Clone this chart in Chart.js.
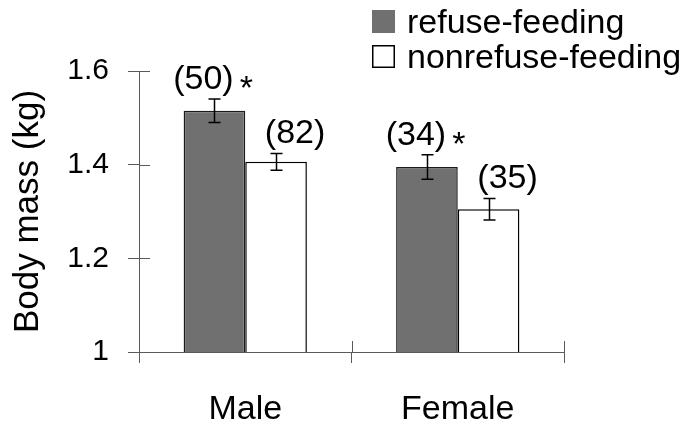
<!DOCTYPE html>
<html>
<head>
<meta charset="utf-8">
<script src="https://cdn.jsdelivr.net/npm/chart.js@4.4.1/dist/chart.umd.min.js"></script>
<style>
  html, body { margin: 0; padding: 0; background: #fff; }
  #wrap { width: 688px; height: 425px; position: relative; }
</style>
</head>
<body>
<div id="wrap"><canvas id="chart"></canvas></div>
<script>
// data
const categories = ['Male', 'Female']
const seriesNames = ['refuse-feeding', 'nonrefuse-feeding']
const refuseMeans = [1.515, 1.395]
const refuseErrors = [0.025, 0.026]
const refuseCounts = [50, 34]
const refuseStars = [true, true]
const nonrefuseMeans = [1.406, 1.305]
const nonrefuseErrors = [0.018, 0.023]
const nonrefuseCounts = [82, 35]
const nonrefuseStars = [false, false]
const yTicks = [1, 1.2, 1.4, 1.6]

const FONT = '"Liberation Sans", Arial, sans-serif'
const AXIS = '#5a5a5a'

// inner half of the tick marks (the axes have crossing ticks)
const crossTicks = {
  id: 'crossTicks',
  afterDraw(chart, args, opts) {
    const { ctx, chartArea, scales: { x, y } } = chart
    ctx.save()
    ctx.strokeStyle = opts.color
    ctx.lineWidth = 1
    ctx.beginPath()
    y.ticks.forEach((t, i) => {
      const py = Math.round(y.getPixelForTick(i)) + 0.5
      ctx.moveTo(chartArea.left, py)
      ctx.lineTo(chartArea.left + opts.length, py)
    })
    const step = x.getPixelForValue(1) - x.getPixelForValue(0)
    for (let i = 0; i <= categories.length; i++) {
      const px = Math.round(x.getPixelForValue(i) - step / 2) + 0.5
      ctx.moveTo(px, chartArea.bottom)
      ctx.lineTo(px, chartArea.bottom - opts.length)
    }
    ctx.stroke()
    ctx.restore()
  }
}

// error bars + sample size labels + significance stars
const barExtras = {
  id: 'barExtras',
  afterDatasetsDraw(chart, args, opts) {
    const { ctx, scales: { y } } = chart
    ctx.save()
    chart.data.datasets.forEach((ds, di) => {
      const meta = chart.getDatasetMeta(di)
      meta.data.forEach((bar, i) => {
        const v = ds.data[i], e = ds.errors[i]
        const yt = y.getPixelForValue(v + e)
        const yb = y.getPixelForValue(v - e)
        const cx = Math.round(bar.x) + 0.5
        ctx.strokeStyle = '#000'
        ctx.lineWidth = 1.5
        ctx.beginPath()
        ctx.moveTo(cx, yt); ctx.lineTo(cx, yb)
        ctx.moveTo(cx - opts.cap, yt); ctx.lineTo(cx + opts.cap, yt)
        ctx.moveTo(cx - opts.cap, yb); ctx.lineTo(cx + opts.cap, yb)
        ctx.stroke()

        ctx.fillStyle = '#000'
        ctx.font = opts.font
        ctx.textAlign = 'center'
        ctx.textBaseline = 'alphabetic'
        const text = '(' + ds.counts[i] + ')'
        const lx = bar.x + opts.shift[di]
        const base = yt - opts.gap - 7
        ctx.fillText(text, lx, base)
        if (ds.stars[i]) {
          const w = ctx.measureText(text).width
          ctx.textAlign = 'left'
          ctx.fillText('*', lx + w / 2 + 6, base + 10)
        }
      })
    })
    ctx.restore()
  }
}

// two-row legend in the upper right
const boxLegend = {
  id: 'boxLegend',
  afterDraw(chart, args, opts) {
    const { ctx } = chart
    ctx.save()
    ctx.font = opts.font
    ctx.textBaseline = 'alphabetic'
    ctx.textAlign = 'left'
    chart.data.datasets.forEach((ds, i) => {
      const base = opts.y + i * opts.row
      const bx = opts.x, by = base - opts.box
      ctx.fillStyle = ds.backgroundColor
      ctx.fillRect(bx, by, opts.box, opts.box)
      if (ds.legendBorder) {
        ctx.strokeStyle = '#000'
        ctx.lineWidth = 1.5
        ctx.strokeRect(bx + 0.75, by + 0.75, opts.box - 1.5, opts.box - 1.5)
      }
      ctx.fillStyle = '#000'
      ctx.fillText(ds.label, bx + opts.box + opts.gap, base)
    })
    ctx.restore()
  }
}

new Chart(document.getElementById('chart'), {
  type: 'bar',
  data: {
    labels: categories,
    datasets: [
      {
        label: seriesNames[0],
        data: refuseMeans,
        errors: refuseErrors,
        counts: refuseCounts,
        stars: refuseStars,
        backgroundColor: '#707070',
        borderColor: '#1a1a1a',
        borderWidth: 1.5,
        borderSkipped: false,
        legendBorder: false
      },
      {
        label: seriesNames[1],
        data: nonrefuseMeans,
        errors: nonrefuseErrors,
        counts: nonrefuseCounts,
        stars: nonrefuseStars,
        backgroundColor: '#ffffff',
        borderColor: '#000000',
        borderWidth: 1.5,
        borderSkipped: false,
        legendBorder: true
      }
    ]
  },
  options: {
    responsive: true,
    maintainAspectRatio: false,
    animation: false,
    devicePixelRatio: 1,
    layout: { padding: { top: 71, right: 124, bottom: 0, left: 0 } },
    datasets: {
      bar: { categoryPercentage: 0.58, barPercentage: 1 }
    },
    scales: {
      x: {
        afterFit: s => { s.height = 73 },
        grid: { offset: true, drawOnChartArea: false, tickLength: 11, color: AXIS, lineWidth: 1 },
        border: { display: true, color: AXIS, width: 1 },
        ticks: { color: '#000', padding: 26, font: { family: FONT, size: 34 } }
      },
      y: {
        min: 1,
        max: 1.6,
        afterBuildTicks: s => { s.ticks = yTicks.map(v => ({ value: v })) },
        afterFit: s => { s.width = 139 },
        grid: { drawOnChartArea: false, tickLength: 11, color: AXIS, lineWidth: 1 },
        border: { display: true, color: AXIS, width: 1 },
        ticks: {
          color: '#000',
          padding: 19,
          font: { family: FONT, size: 30 },
          callback: v => String(v)
        },
        title: {
          display: true,
          text: 'Body mass (kg)',
          color: '#000',
          font: { family: FONT, size: 35 },
          padding: { top: 7, bottom: 0 }
        }
      }
    },
    plugins: {
      legend: { display: false },
      tooltip: { enabled: false },
      crossTicks: { color: AXIS, length: 11 },
      barExtras: { cap: 6, gap: 3, shift: [-11, 19], font: '34px ' + FONT },
      boxLegend: { x: 372, y: 33, row: 35, box: 23, gap: 12, font: '34px ' + FONT }
    }
  },
  plugins: [crossTicks, barExtras, boxLegend]
})
</script>
</body>
</html>
